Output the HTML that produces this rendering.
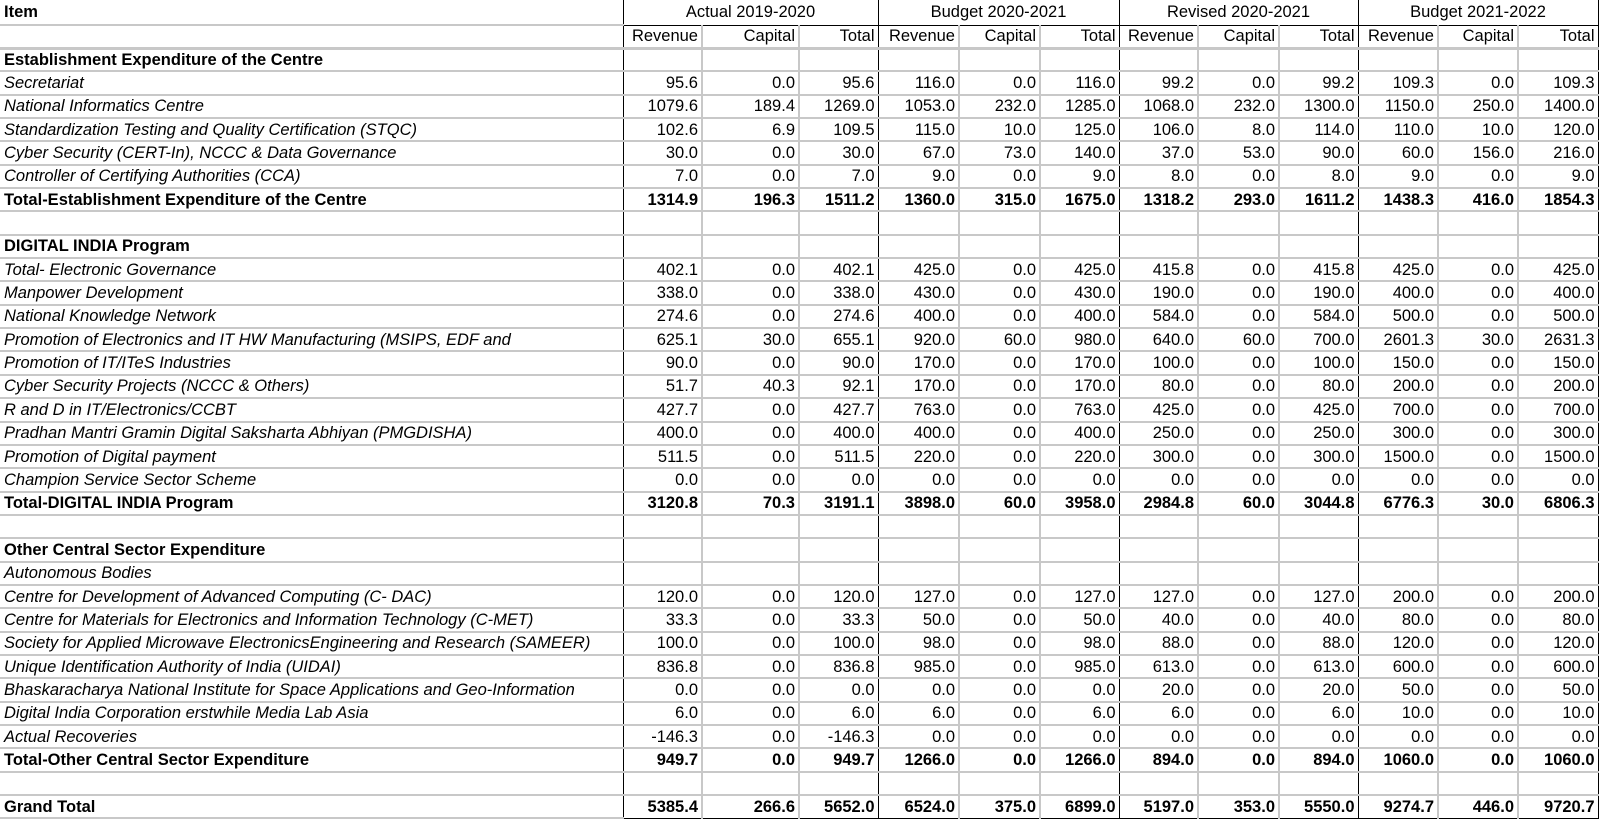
<!DOCTYPE html>
<html><head><meta charset="utf-8"><style>
html,body{margin:0;padding:0;background:#fff;width:1600px;height:818px;overflow:hidden}
table{border-collapse:collapse;table-layout:fixed;font-family:"Liberation Sans",Arial,sans-serif;font-size:16.5px;color:#000;position:absolute;left:0;top:0}
td{padding:0 3px;white-space:nowrap;overflow:hidden;border-bottom:2px solid #c8c8c8;border-right:2px solid #c8c8c8;text-align:right;height:21.4px;line-height:20px;box-sizing:border-box}
td.i{text-align:left;border-right:1px solid #000;padding-left:4px}
td.g{border-right:1px solid #000}
tr.h1 td{height:25px}
tr.h1 td.c{text-align:center;border-bottom:1px solid #000;border-right:1px solid #000}
tr.h2 td{height:23px;border-bottom:3px solid #c8c8c8}
.b td{font-weight:bold}
.it td.i{font-style:italic}
tr.last td{border-bottom:1px solid #000}
tr.last td.i{border-bottom:2px solid #c8c8c8}
</style></head><body>
<table>
<colgroup><col style="width:623px"><col style="width:79px"><col style="width:97px"><col style="width:79px"><col style="width:81px"><col style="width:81px"><col style="width:79px"><col style="width:79px"><col style="width:81px"><col style="width:79px"><col style="width:80px"><col style="width:80px"><col style="width:80px"></colgroup>
<tr class="h1"><td class="i" style="font-weight:bold">Item</td><td class="c" colspan="3">Actual 2019-2020</td><td class="c" colspan="3">Budget 2020-2021</td><td class="c" colspan="3">Revised 2020-2021</td><td class="c" colspan="3">Budget 2021-2022</td></tr>
<tr class="h2"><td class="i"></td><td>Revenue</td><td>Capital</td><td class="g">Total</td><td>Revenue</td><td>Capital</td><td class="g">Total</td><td>Revenue</td><td>Capital</td><td class="g">Total</td><td>Revenue</td><td>Capital</td><td class="g">Total</td></tr>
<tbody id="b"></tbody>
</table>
<script>
var rows=[
["b","Establishment Expenditure of the Centre"],
["it","Secretariat","95.6 0.0 95.6 116.0 0.0 116.0 99.2 0.0 99.2 109.3 0.0 109.3"],
["it","National Informatics Centre","1079.6 189.4 1269.0 1053.0 232.0 1285.0 1068.0 232.0 1300.0 1150.0 250.0 1400.0"],
["it","Standardization Testing and Quality Certification (STQC)","102.6 6.9 109.5 115.0 10.0 125.0 106.0 8.0 114.0 110.0 10.0 120.0"],
["it","Cyber Security (CERT-In), NCCC & Data Governance","30.0 0.0 30.0 67.0 73.0 140.0 37.0 53.0 90.0 60.0 156.0 216.0"],
["it","Controller of Certifying Authorities (CCA)","7.0 0.0 7.0 9.0 0.0 9.0 8.0 0.0 8.0 9.0 0.0 9.0"],
["b","Total-Establishment Expenditure of the Centre","1314.9 196.3 1511.2 1360.0 315.0 1675.0 1318.2 293.0 1611.2 1438.3 416.0 1854.3"],
["",""],
["b","DIGITAL INDIA Program"],
["it","Total- Electronic Governance","402.1 0.0 402.1 425.0 0.0 425.0 415.8 0.0 415.8 425.0 0.0 425.0"],
["it","Manpower Development","338.0 0.0 338.0 430.0 0.0 430.0 190.0 0.0 190.0 400.0 0.0 400.0"],
["it","National Knowledge Network","274.6 0.0 274.6 400.0 0.0 400.0 584.0 0.0 584.0 500.0 0.0 500.0"],
["it","Promotion of Electronics and IT HW Manufacturing (MSIPS, EDF and","625.1 30.0 655.1 920.0 60.0 980.0 640.0 60.0 700.0 2601.3 30.0 2631.3"],
["it","Promotion of IT/ITeS Industries","90.0 0.0 90.0 170.0 0.0 170.0 100.0 0.0 100.0 150.0 0.0 150.0"],
["it","Cyber Security Projects (NCCC & Others)","51.7 40.3 92.1 170.0 0.0 170.0 80.0 0.0 80.0 200.0 0.0 200.0"],
["it","R and D in IT/Electronics/CCBT","427.7 0.0 427.7 763.0 0.0 763.0 425.0 0.0 425.0 700.0 0.0 700.0"],
["it","Pradhan Mantri Gramin Digital Saksharta Abhiyan (PMGDISHA)","400.0 0.0 400.0 400.0 0.0 400.0 250.0 0.0 250.0 300.0 0.0 300.0"],
["it","Promotion of Digital payment","511.5 0.0 511.5 220.0 0.0 220.0 300.0 0.0 300.0 1500.0 0.0 1500.0"],
["it","Champion Service Sector Scheme","0.0 0.0 0.0 0.0 0.0 0.0 0.0 0.0 0.0 0.0 0.0 0.0"],
["b","Total-DIGITAL INDIA Program","3120.8 70.3 3191.1 3898.0 60.0 3958.0 2984.8 60.0 3044.8 6776.3 30.0 6806.3"],
["",""],
["b","Other Central Sector Expenditure"],
["it","Autonomous Bodies"],
["it","Centre for Development of Advanced Computing (C- DAC)","120.0 0.0 120.0 127.0 0.0 127.0 127.0 0.0 127.0 200.0 0.0 200.0"],
["it","Centre for Materials for Electronics and Information Technology (C-MET)","33.3 0.0 33.3 50.0 0.0 50.0 40.0 0.0 40.0 80.0 0.0 80.0"],
["it","Society for Applied Microwave ElectronicsEngineering and Research (SAMEER)","100.0 0.0 100.0 98.0 0.0 98.0 88.0 0.0 88.0 120.0 0.0 120.0"],
["it","Unique Identification Authority of India (UIDAI)","836.8 0.0 836.8 985.0 0.0 985.0 613.0 0.0 613.0 600.0 0.0 600.0"],
["it","Bhaskaracharya National Institute for Space Applications and Geo-Information","0.0 0.0 0.0 0.0 0.0 0.0 20.0 0.0 20.0 50.0 0.0 50.0"],
["it","Digital India Corporation erstwhile Media Lab Asia","6.0 0.0 6.0 6.0 0.0 6.0 6.0 0.0 6.0 10.0 0.0 10.0"],
["it","Actual Recoveries","-146.3 0.0 -146.3 0.0 0.0 0.0 0.0 0.0 0.0 0.0 0.0 0.0"],
["b","Total-Other Central Sector Expenditure","949.7 0.0 949.7 1266.0 0.0 1266.0 894.0 0.0 894.0 1060.0 0.0 1060.0"],
["",""],
["b last","Grand Total","5385.4 266.6 5652.0 6524.0 375.0 6899.0 5197.0 353.0 5550.0 9274.7 446.0 9720.7"]
];
var h="";
rows.forEach(function(r){
 var v=r[2]?r[2].split(" "):["","","","","","","","","","","",""];
 h+='<tr class="'+r[0]+'" style="height:23.35px"><td class="i" style="height:23.35px">'+r[1].replace(/&/g,"&amp;")+'</td>';
 v.forEach(function(x,k){h+='<td'+(k%3==2?' class="g"':'')+'>'+x+'</td>';});
 h+='</tr>';
});
document.getElementById("b").innerHTML=h;
</script>
</body></html>
